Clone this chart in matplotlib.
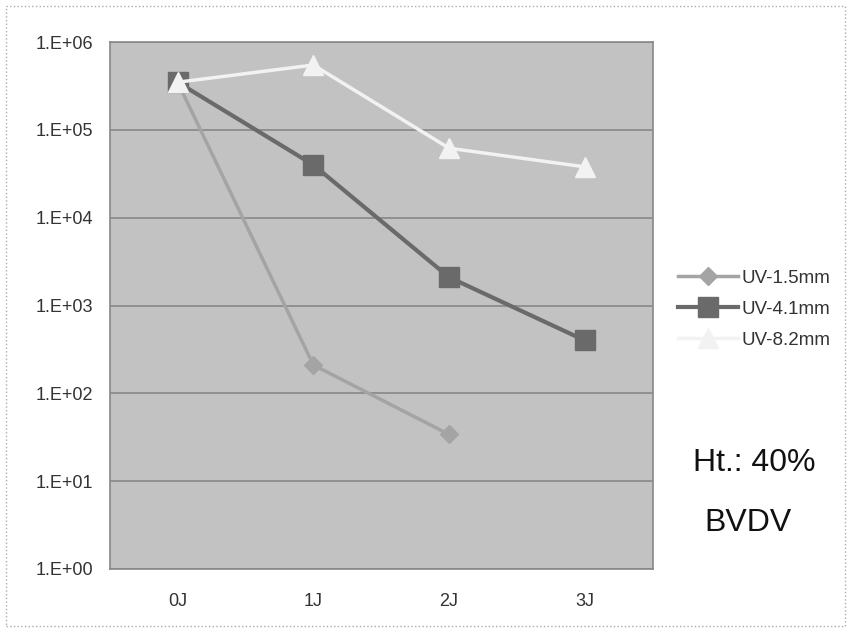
import numpy as np
import matplotlib
matplotlib.use('Agg')
import matplotlib.pyplot as plt
from matplotlib.patches import Rectangle

# data (log scale)
categories = ['0J', '1J', '2J', '3J']
uv_15 = [3.5e5, 2.1e2, 3.4e1]
uv_41 = [3.5e5, 4.0e4, 2.1e3, 4.0e2]
uv_82 = [3.5e5, 5.5e5, 6.2e4, 3.8e4]
y_ticks = [1e0, 1e1, 1e2, 1e3, 1e4, 1e5, 1e6]
y_labels = ['1.E+00', '1.E+01', '1.E+02', '1.E+03', '1.E+04', '1.E+05', '1.E+06']

plt.rcParams['font.family'] = ['Liberation Sans', 'DejaVu Sans']

fig = plt.figure(figsize=(8.51, 6.30), dpi=100)
ax = fig.add_axes([0.129, 0.097, 0.638, 0.836])
ax.set_facecolor('#c2c2c2')

x = np.arange(len(categories))
ax.plot(x[:len(uv_15)], uv_15, color='#a4a4a4', lw=2.5, marker='D', ms=9,
        mec='#a4a4a4', label='UV-1.5mm', zorder=3)
ax.plot(x, uv_41, color='#6a6a6a', lw=3, marker='s', ms=15,
        mec='#6a6a6a', label='UV-4.1mm', zorder=4)
ax.plot(x, uv_82, color='#f2f2f2', lw=2.5, marker='^', ms=14,
        mec='#f2f2f2', label='UV-8.2mm', zorder=5)

ax.set_yscale('log')
ax.set_ylim(1, 1e6)
ax.set_xlim(-0.5, 3.5)
ax.set_yticks(y_ticks)
ax.set_yticklabels(y_labels)
ax.minorticks_off()
ax.set_xticks(x)
ax.set_xticklabels(categories)
ax.tick_params(length=0, labelsize=13, colors='#333333')
ax.tick_params(axis='x', pad=17)
ax.tick_params(axis='y', pad=12)
ax.grid(axis='y', color='#888888', lw=1.2)
ax.set_axisbelow(True)
for s in ax.spines.values():
    s.set_color('#888888')
    s.set_linewidth(1.2)

leg = ax.legend(loc='center left', bbox_to_anchor=(1.046, 0.493), frameon=False,
                fontsize=13.5, handlelength=3.2, handletextpad=0.2,
                labelspacing=0.75, borderaxespad=0, borderpad=0)
for t in leg.get_texts():
    t.set_color('#333333')

fig.text(0.814, 0.253, 'Ht.: 40%', fontsize=23, color='#111111')
fig.text(0.828, 0.157, 'BVDV', fontsize=23, color='#111111')

# outer chart border
fig.patches.append(Rectangle((0.007, 0.006), 0.986, 0.984, transform=fig.transFigure,
                             fill=False, ec='#aaaaaa', lw=1, ls=':'))

fig.savefig('out.png', dpi=100)
